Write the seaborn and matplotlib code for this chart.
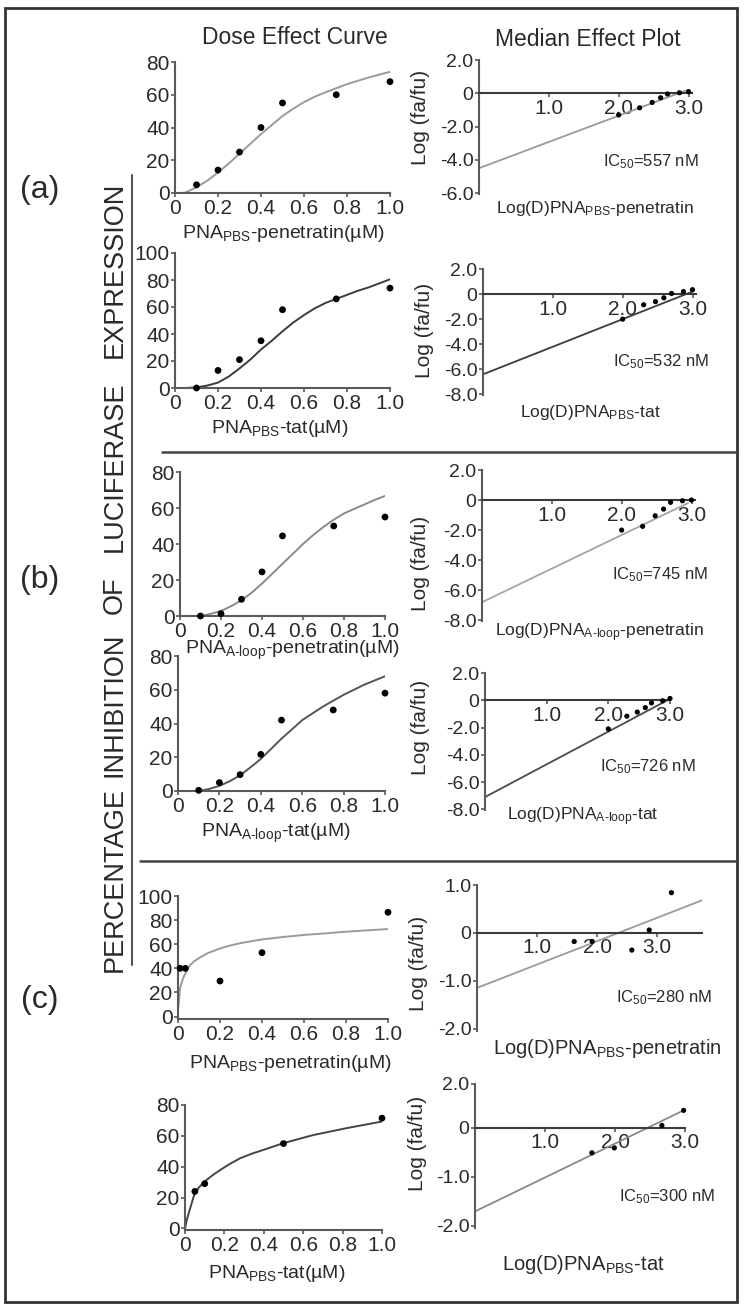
import numpy as np
import pandas as pd
import matplotlib
matplotlib.use('Agg')
import matplotlib.pyplot as plt
import seaborn as sns
from matplotlib.lines import Line2D
from matplotlib.patches import Rectangle

# ---------------- data ----------------
# (a) PNA_PBS-penetratin
a1_dose = [0.1, 0.2, 0.3, 0.4, 0.5, 0.75, 1.0]
a1_eff = [5, 14, 25, 40, 55, 60, 68]
a1_cx = [0.03, 0.05, 0.1, 0.15, 0.2, 0.25, 0.3, 0.35, 0.4, 0.45, 0.5, 0.55,
         0.6, 0.65, 0.7, 0.75, 0.8, 0.85, 0.9, 0.95, 1.0]
a1_cy = [0, 0.4, 3.5, 7.5, 12.5, 18, 24, 30, 36, 41.5, 47, 51.5,
         55.5, 58.8, 61.5, 64, 66.5, 68.5, 70.5, 72.3, 74]
a1_logd = [2.0, 2.3, 2.48, 2.6, 2.7, 2.87, 3.0]
a1_logr = [-1.3, -0.87, -0.55, -0.27, -0.04, 0.03, 0.1]
a1_fx = [0, 2.95]
a1_fy = [-4.5, 0.15]

# (a) PNA_PBS-tat
a2_dose = [0.1, 0.2, 0.3, 0.4, 0.5, 0.75, 1.0]
a2_eff = [0, 13, 21, 35, 58, 66, 74]
a2_cx = [0.05, 0.1, 0.15, 0.2, 0.25, 0.3, 0.35, 0.4, 0.45, 0.5, 0.55, 0.6,
         0.65, 0.7, 0.75, 0.8, 0.85, 0.9, 0.95, 1.0]
a2_cy = [0, 0.5, 1.8, 4, 8.5, 14.5, 21, 28.5, 35, 42, 48.5, 54,
         59, 63, 66, 69, 72, 74.5, 77.5, 80.5]
a2_logd = [2.0, 2.3, 2.47, 2.59, 2.7, 2.87, 3.0]
a2_logr = [-2.0, -0.85, -0.6, -0.3, 0.05, 0.2, 0.35]
a2_fx = [0, 3.0]
a2_fy = [-6.4, 0.2]

# (b) PNA_A-loop-penetratin
b1_dose = [0.1, 0.2, 0.3, 0.4, 0.5, 0.75, 1.0]
b1_eff = [0, 1.3, 9.3, 24.5, 44.5, 50, 55]
b1_cx = [0.1, 0.15, 0.2, 0.25, 0.3, 0.35, 0.4, 0.45, 0.5, 0.55, 0.6, 0.65,
         0.7, 0.75, 0.8, 0.85, 0.9, 0.95, 1.0]
b1_cy = [0, 1.2, 2.8, 5.5, 8.7, 13, 18, 23.5, 29, 34.5, 40, 45,
         49.5, 53.5, 57, 59.5, 62, 64.5, 66.7]
b1_logd = [2.0, 2.3, 2.48, 2.6, 2.7, 2.87, 3.0]
b1_logr = [-2.0, -1.75, -1.05, -0.6, -0.15, -0.05, 0.0]
b1_fx = [0, 2.95]
b1_fy = [-6.8, -0.2]

# (b) PNA_A-loop-tat
b2_dose = [0.1, 0.2, 0.3, 0.4, 0.5, 0.75, 1.0]
b2_eff = [0.4, 5, 9.7, 21.7, 42, 48, 58]
b2_cx = [0.1, 0.15, 0.2, 0.25, 0.3, 0.35, 0.4, 0.45, 0.5, 0.55, 0.6, 0.65,
         0.7, 0.75, 0.8, 0.85, 0.9, 0.95, 1.0]
b2_cy = [0, 1.2, 3, 5.8, 9.3, 14, 19, 25, 31, 36.5, 42, 46,
         50, 53.5, 57, 60, 63, 65.5, 68]
b2_logd = [2.0, 2.3, 2.47, 2.6, 2.7, 2.88, 3.0]
b2_logr = [-2.1, -1.17, -0.87, -0.54, -0.2, -0.04, 0.13]
b2_fx = [0, 3.0]
b2_fy = [-7.1, 0.1]

# (c) PNA_PBS-penetratin
c1_dose = [0.01, 0.035, 0.2, 0.4, 1.0]
c1_eff = [40, 40, 29.5, 53, 86.5]
c1_cx = [0.002, 0.01, 0.027, 0.05, 0.074, 0.1, 0.14, 0.2, 0.25, 0.3, 0.4,
         0.5, 0.6, 0.7, 0.8, 0.9, 1.0]
c1_cy = [8, 24, 33, 41, 45.5, 48.5, 52.5, 56.5, 59, 61, 64,
         66, 67.7, 69, 70.4, 71.5, 72.6]
c1_logd = [1.62, 1.92, 2.58, 2.87, 3.24]
c1_logr = [-0.18, -0.18, -0.36, 0.06, 0.84]
c1_fx = [0, 3.75]
c1_fy = [-1.15, 0.68]

# (c) PNA_PBS-tat
c2_dose = [0.05, 0.1, 0.5, 1.0]
c2_eff = [24, 29, 55, 71.5]
c2_cx = [0, 0.01, 0.025, 0.047, 0.07, 0.1, 0.14, 0.18, 0.23, 0.28, 0.34,
         0.4, 0.5, 0.65, 0.82, 1.0]
c2_cy = [0, 6, 12.5, 22, 26.5, 30.5, 34.5, 38, 42, 45.5, 48.5,
         51, 55.3, 60.5, 65, 69.3]
c2_logd = [1.67, 1.99, 2.67, 2.98]
c2_logr = [-0.51, -0.41, 0.05, 0.36]
c2_fx = [0, 2.98]
c2_fy = [-1.71, 0.36]

dose_ticks = [0, 0.2, 0.4, 0.6, 0.8, 1.0]
dose_ticklabels = ['0', '0.2', '0.4', '0.6', '0.8', '1.0']

# ---------------- figure ----------------
sns.set_style('ticks')
plt.rcParams['font.family'] = ['Liberation Sans', 'DejaVu Sans']
plt.rcParams['mathtext.default'] = 'regular'
TXT = '#2a2a2a'
AXC = '#5a5a5a'

W, H = 750, 1316
fig = plt.figure(figsize=(7.5, 13.16), dpi=100)


def add_ax(x0, x1, ytop, ybot):
    return fig.add_axes([x0 / W, 1 - ybot / H, (x1 - x0) / W, (ybot - ytop) / H])


def ftext(x, y, s, **kw):
    kw.setdefault('color', TXT)
    fig.text(x / W, 1 - y / H, s, **kw)


def style(ax, xsize, ysize):
    for sp in ['left', 'bottom']:
        ax.spines[sp].set_color(AXC)
        ax.spines[sp].set_linewidth(1.5)
    ax.spines[['top', 'right']].set_visible(False)
    ax.tick_params(axis='both', direction='out', length=3, width=1.2,
                   color=AXC, labelcolor=TXT, pad=1)
    ax.tick_params(axis='x', labelsize=xsize)
    ax.tick_params(axis='y', labelsize=ysize)
    ax.set_xlabel('')
    ax.set_ylabel('')
    ax.patch.set_alpha(0)


def dose_panel(box, dose, eff, cx, cy, ylim, yticks, col):
    ax = add_ax(*box)
    sns.lineplot(x=cx, y=cy, color=col, lw=1.4, ax=ax, errorbar=None)
    sns.scatterplot(x=dose, y=eff, color='black', s=24, edgecolor='none',
                    ax=ax, clip_on=False, zorder=3)
    ax.set_xlim(0, 1.0)
    ax.set_ylim(*ylim)
    ax.set_xticks(dose_ticks)
    ax.set_xticklabels(dose_ticklabels)
    ax.set_yticks(yticks)
    style(ax, 15, 15)
    return ax


def median_panel(box, logd, logr, fx, fy, xlim, ylim, yticks, ylabels, col):
    ax = add_ax(*box)
    sns.lineplot(x=fx, y=fy, color=col, lw=1.3, ax=ax, errorbar=None)
    sns.scatterplot(x=logd, y=logr, color='black', s=14, edgecolor='none',
                    ax=ax, clip_on=False, zorder=3)
    ax.set_xlim(*xlim)
    ax.set_ylim(*ylim)
    ax.spines['bottom'].set_position(('data', 0))
    ax.set_xticks([1, 2, 3])
    ax.set_xticklabels(['1.0', '2.0', '3.0'])
    ax.set_yticks(yticks)
    ax.set_yticklabels(ylabels)
    style(ax, 15, 14)
    ax.spines['bottom'].set_color('#3a3a3a')
    return ax


ylab8 = ['2.0', '0', '-2.0', '-4.0', '-6.0', '-8.0']
ylab6 = ['2.0', '0', '-2.0', '-4.0', '-6.0']

# (a)
dose_panel((175, 390, 62, 193), a1_dose, a1_eff, a1_cx, a1_cy, (0, 80),
           [0, 20, 40, 60, 80], '#9a9a9a')
median_panel((479, 692, 60, 194), a1_logd, a1_logr, a1_fx, a1_fy, (0, 3.05),
             (-6.05, 2), [2, 0, -2, -4, -6], ylab6, '#9a9a9a')
dose_panel((175, 390, 253, 388), a2_dose, a2_eff, a2_cx, a2_cy, (0, 100),
           [0, 20, 40, 60, 80, 100], '#3c3c3c')
median_panel((483, 696, 269, 395), a2_logd, a2_logr, a2_fx, a2_fy, (0, 3.05),
             (-8.05, 2), [2, 0, -2, -4, -6, -8], ylab8, '#3c3c3c')

# (b)
dose_panel((180, 385, 472, 616), b1_dose, b1_eff, b1_cx, b1_cy, (0, 80),
           [0, 20, 40, 60, 80], '#8a8a8a')
median_panel((482, 695, 470, 621), b1_logd, b1_logr, b1_fx, b1_fy, (0, 3.05),
             (-8.05, 2), [2, 0, -2, -4, -6, -8], ylab8, '#a5a5a5')
dose_panel((178, 385, 656, 791), b2_dose, b2_eff, b2_cx, b2_cy, (0, 80),
           [0, 20, 40, 60, 80], '#555555')
median_panel((485, 670, 673, 810), b2_logd, b2_logr, b2_fx, b2_fy, (0, 3.0),
             (-8.05, 2), [2, 0, -2, -4, -6, -8], ylab8, '#4a4a4a')

# (c)
dose_panel((178, 388, 896, 1019), c1_dose, c1_eff, c1_cx, c1_cy, (-2, 100),
           [0, 20, 40, 60, 80, 100], '#9a9a9a')
median_panel((477, 702, 885, 1031), c1_logd, c1_logr, c1_fx, c1_fy, (0, 3.75),
             (-2.05, 1.0), [1, 0, -1, -2], ['1.0', '0', '-1.0', '-2.0'], '#9a9a9a')
dose_panel((185, 382, 1105, 1230), c2_dose, c2_eff, c2_cx, c2_cy, (-1, 80),
           [0, 20, 40, 60, 80], '#444444')
median_panel((475, 685, 1084, 1228), c2_logd, c2_logr, c2_fx, c2_fy, (0, 3.0),
             (-2.05, 0.9), [0.9, 0, -1, -2], ['2.0', '0', '-1.0', '-2.0'], '#8a8a8a')

# ---------------- texts ----------------
ftext(295, 37, 'Dose Effect Curve', fontsize=16.5, ha='center', va='center')
ftext(588, 40, 'Median Effect Plot', fontsize=16.5, ha='center', va='center')

ftext(283, 233, r'PNA$_{PBS}$-penetratin(µM)', fontsize=14, ha='center', va='center')
ftext(280, 428, r'PNA$_{PBS}$-tat(µM)', fontsize=14, ha='center', va='center')
ftext(292, 650, r'PNA$_{A‐loop}$-penetratin(µM)', fontsize=14, ha='center', va='center')
ftext(276, 833, r'PNA$_{A‐loop}$-tat(µM)', fontsize=14, ha='center', va='center')
ftext(290, 1063, r'PNA$_{PBS}$-penetratin(µM)', fontsize=14, ha='center', va='center')
ftext(277, 1273, r'PNA$_{PBS}$-tat(µM)', fontsize=14, ha='center', va='center')

ftext(595, 208, r'Log(D)PNA$_{PBS}$-penetratin', fontsize=12.5, ha='center', va='center')
ftext(590, 412, r'Log(D)PNA$_{PBS}$-tat', fontsize=12.5, ha='center', va='center')
ftext(599, 633, r'Log(D)PNA$_{A‐loop}$-penetratin', fontsize=12.5, ha='center', va='center')
ftext(583, 817, r'Log(D)PNA$_{A‐loop}$-tat', fontsize=12.5, ha='center', va='center')
ftext(607, 1048, r'Log(D)PNA$_{PBS}$-penetratin', fontsize=14.5, ha='center', va='center')
ftext(583, 1265, r'Log(D)PNA$_{PBS}$-tat', fontsize=14.5, ha='center', va='center')

for x, y, s in [(603, 162, '557'), (613, 362, '532'), (612, 575, '745'),
                (600, 767, '726'), (616, 998, '280'), (619, 1197, '300')]:
    ftext(x, y, r'IC$_{50}$=' + s + ' nM', fontsize=12, ha='left', va='center')

for x, y in [(420, 117), (425, 330), (420, 563), (420, 727), (418, 963), (417, 1143)]:
    ftext(x, y, 'Log (fa/fu)', fontsize=15, rotation=90, ha='center', va='center')

ftext(40, 190, '(a)', fontsize=23, ha='center', va='center')
ftext(40, 580, '(b)', fontsize=23, ha='center', va='center')
ftext(40, 1000, '(c)', fontsize=23, ha='center', va='center')

for y, word in [(880, 'PERCENTAGE'), (705, 'INHIBITION'), (595, 'OF'),
                (467, 'LUCIFERASE'), (270, 'EXPRESSION')]:
    ftext(115, y, word, fontsize=19.5, rotation=90, ha='center', va='center')

# ---------------- frame and separators ----------------
def fline(xs, ys, **kw):
    fig.add_artist(Line2D([x / W for x in xs], [1 - y / H for y in ys],
                          transform=fig.transFigure, **kw))

fig.add_artist(Rectangle((5 / W, 1 - 1302 / H), 732 / W, 1294 / H,
                         transform=fig.transFigure, fill=False,
                         edgecolor='#333333', lw=2))
fline([162, 737], [452, 452], color='#444444', lw=1.8)
fline([140, 737], [861, 861], color='#444444', lw=1.8)
fline([132, 132], [175, 965], color='#555555', lw=1.5)

fig.savefig('out.png', dpi=100, facecolor='white')
